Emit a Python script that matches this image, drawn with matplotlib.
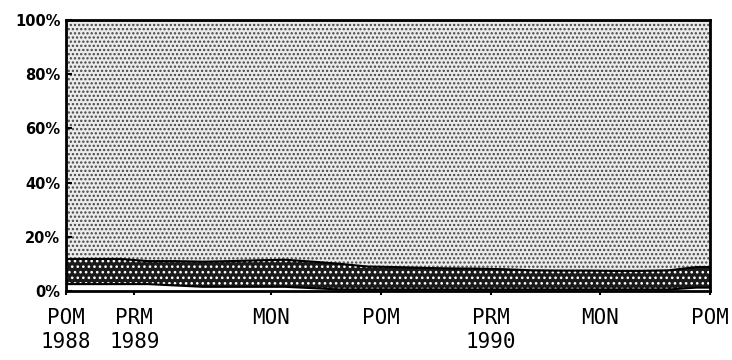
import numpy as np
import matplotlib
matplotlib.use("Agg")
import matplotlib.pyplot as plt

# --- data (percent shares, stacked to 100%) ---
months = [0, 1, 2, 3, 4, 5, 6, 7, 8, 9, 10, 11, 12, 13, 14, 15, 16, 17, 18,
          19, 20, 21, 22, 23, 23.5]
bottom_share = [2.5, 2.5, 2.5, 2.5, 2.0, 1.5, 1.5, 1.5, 1.5, 1.0, 0.5, 0.5, 0.5,
                0.5, 0.5, 0.5, 0.5, 0.5, 0.5, 0.5, 0.5, 0.5, 0.5, 1.2, 1.2]
middle_share = [9.3, 9.3, 9.3, 8.5, 9.0, 9.3, 9.5, 9.8, 10.0, 9.8, 9.5, 8.5, 8.3,
                8.0, 7.8, 7.7, 7.5, 7.1, 7.0, 7.0, 6.9, 6.9, 7.1, 7.6, 7.6]
tick_pos = [0, 2.5, 7.5, 11.5, 15.5, 19.5, 23.5]
tick_labels = ["POM\n1988", "PRM\n1989", "MON", "POM", "PRM\n1990", "MON", "POM"]
y_ticks = [0, 20, 40, 60, 80, 100]
y_labels = ["0%", "20%", "40%", "60%", "80%", "100%"]

x = np.array(months, dtype=float)
b = np.array(bottom_share)
m = np.array(middle_share)
c1 = b
c2 = b + m
top = np.full_like(x, 100.0)

plt.rcParams["hatch.linewidth"] = 1.1

fig = plt.figure(figsize=(7.32, 3.6), dpi=100)
ax = fig.add_axes([0.090, 0.192, 0.880, 0.752])

# bottom layer
ax.fill_between(x, 0, c1, facecolor="white", linewidth=0)
# middle layer (dark with white dots)
ax.fill_between(x, c1, c2, facecolor="#1a1a1a", linewidth=0)
ax.fill_between(x, c1, c2, facecolor="none", edgecolor="white", hatch="...",
                linewidth=0)
# top layer (dotted grey)
ax.fill_between(x, c2, top, facecolor="#ebebeb", linewidth=0)
ax.fill_between(x, c2, top, facecolor="none", edgecolor="#444444", hatch="....",
                linewidth=0)

ax.plot(x, c1, color="black", lw=1.5)
ax.plot(x, c2, color="black", lw=1.5)

ax.set_xlim(x[0], x[-1])
ax.set_ylim(0, 100)
ax.set_xticks(tick_pos)
ax.set_xticklabels(tick_labels, fontfamily="DejaVu Sans Mono", fontsize=15,
                   linespacing=1.3)
ax.set_yticks(y_ticks)
ax.set_yticklabels(y_labels, fontweight="heavy", fontsize=10.5)
ax.tick_params(axis="x", direction="out", length=3, width=1.5, pad=9)
ax.tick_params(axis="y", direction="in", length=4, width=1.5, pad=4)
for sp in ax.spines.values():
    sp.set_linewidth(2)
    sp.set_color("black")

fig.savefig("out.png", dpi=100)
